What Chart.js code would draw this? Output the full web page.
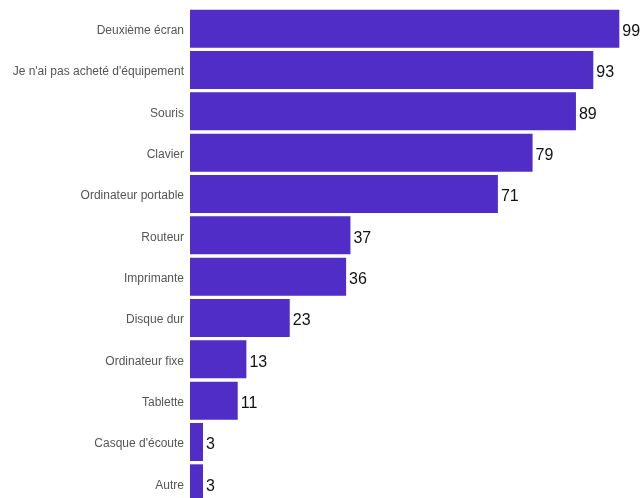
<!DOCTYPE html>
<html>
<head>
<meta charset="utf-8">
<script src="https://cdn.jsdelivr.net/npm/chart.js@4"></script>
<style>
    html, body { margin: 0; padding: 0; background: #fff; overflow: hidden; }
    canvas { display: block; }
</style>
</head>
<body>
<canvas id="equipement" width="641" height="506"></canvas>
<script>
const categories = [
    "Deuxième écran",
    "Je n'ai pas acheté d'équipement",
    "Souris",
    "Clavier",
    "Ordinateur portable",
    "Routeur",
    "Imprimante",
    "Disque dur",
    "Ordinateur fixe",
    "Tablette",
    "Casque d'écoute",
    "Autre"
];
const valeurs = [99, 93, 89, 79, 71, 37, 36, 23, 13, 11, 3, 3];

// valeur écrite au bout de chaque barre
const etiquettes = {
    id: 'etiquettes',
    afterDatasetsDraw(chart) {
        const ctx = chart.ctx;
        const meta = chart.getDatasetMeta(0);
        ctx.save();
        ctx.font = '16px "Liberation Sans", Arial, sans-serif';
        ctx.fillStyle = '#111';
        ctx.textAlign = 'left';
        ctx.textBaseline = 'middle';
        meta.data.forEach((bar, i) => {
            ctx.fillText(String(valeurs[i]), bar.x + 3, bar.y + 3);
        });
        ctx.restore();
    }
};

const ctx = document.getElementById('equipement').getContext('2d');
window.chart = new Chart(ctx, {
    type: 'bar',
    data: {
        labels: categories,
        datasets: [{
            data: valeurs,
            backgroundColor: '#512dc8',
            borderWidth: 0,
            barPercentage: 0.92,
            categoryPercentage: 1
        }]
    },
    options: {
        indexAxis: 'y',
        responsive: false,
        animation: false,
        layout: { padding: { top: 8, bottom: 2, left: 0, right: 0 } },
        plugins: { legend: { display: false }, tooltip: { enabled: false } },
        scales: {
            x: {
                min: 0,
                max: 104,
                display: false
            },
            y: {
                grid: { display: false, drawTicks: false },
                border: { display: false },
                ticks: {
                    color: '#555',
                    padding: 6,
                    labelOffset: 2,
                    font: { family: '"Liberation Sans", Arial, sans-serif', size: 12 }
                },
                afterFit(scale) {
                    scale.width = 190;
                    scale.paddingTop = 0;
                    scale.paddingBottom = 0;
                }
            }
        }
    },
    plugins: [etiquettes]
});
</script>
</body>
</html>
